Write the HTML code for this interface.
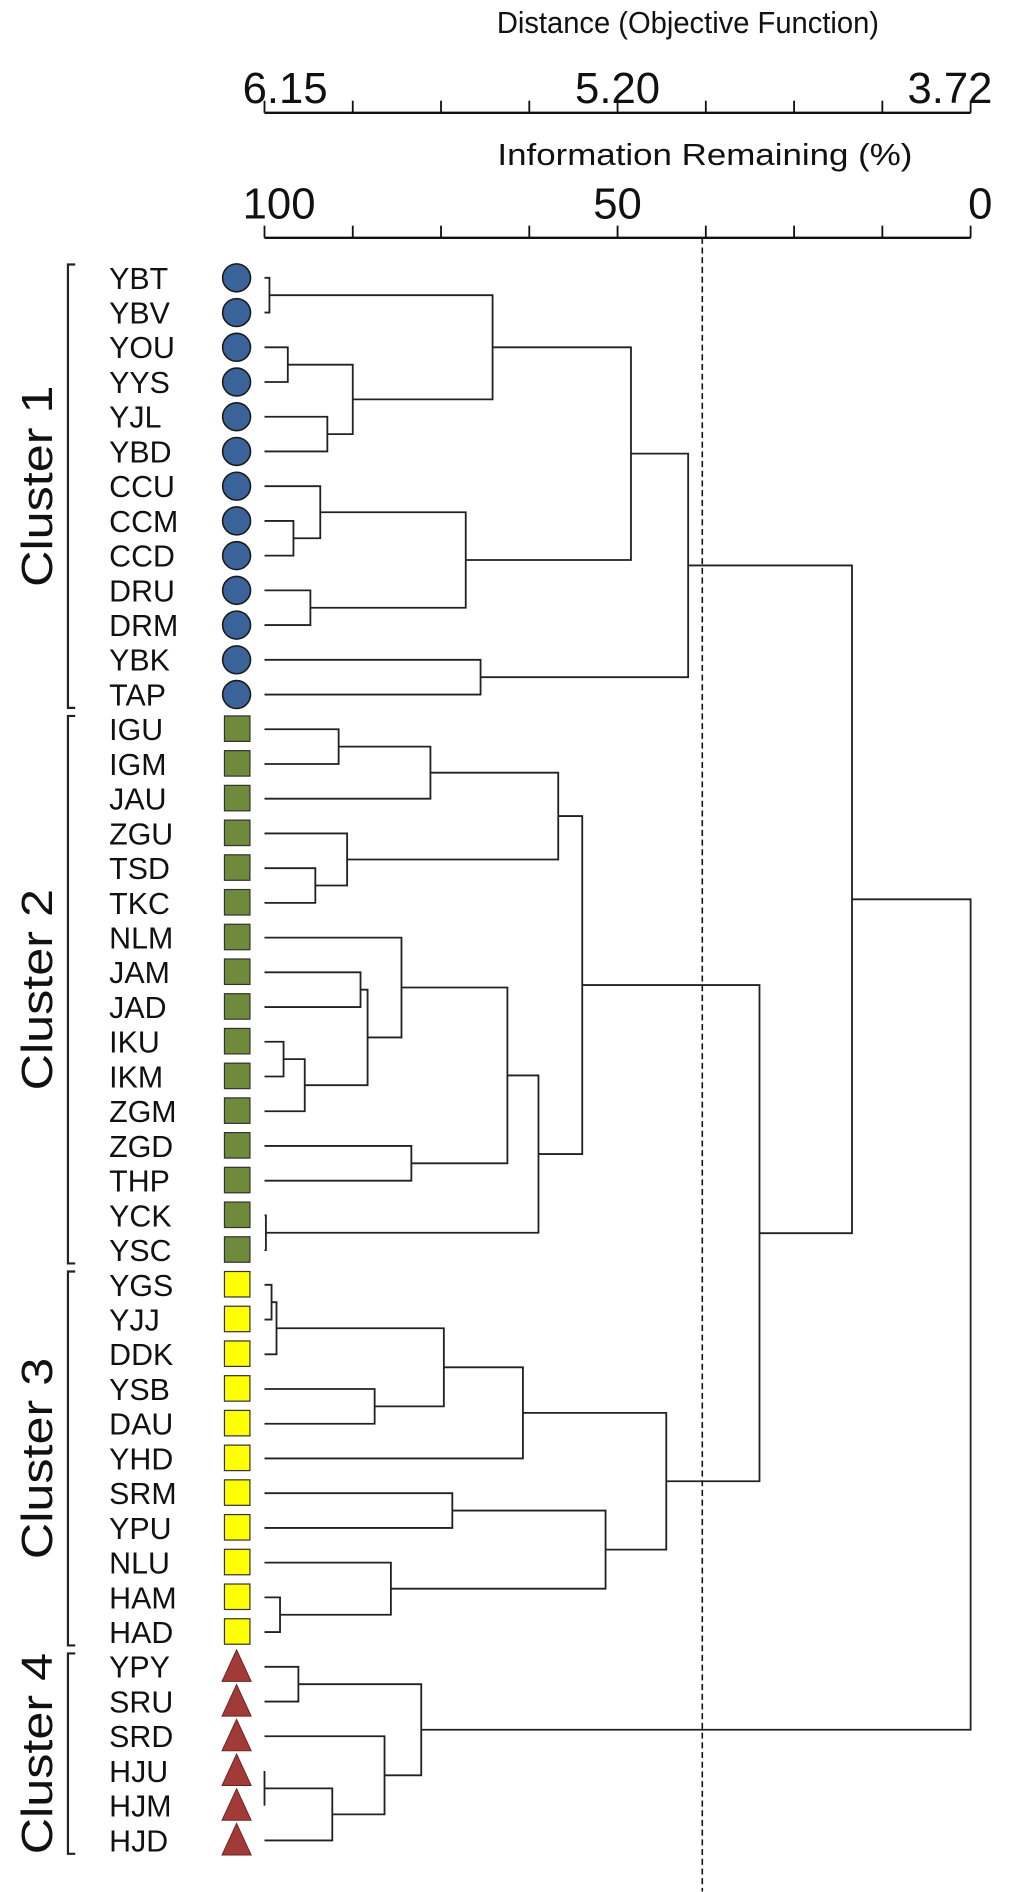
<!DOCTYPE html>
<html><head><meta charset="utf-8"><style>
html,body{margin:0;padding:0;background:#fff;}
svg{display:block;}
text{font-family:"Liberation Sans",Arial,sans-serif;fill:#111;}
</style></head><body>
<svg id="chart" width="1024" height="1892" viewBox="0 0 844 1559.4" preserveAspectRatio="none" xmlns="http://www.w3.org/2000/svg">
<g id="axes"></g>
<g id="tree"></g>
<g id="leaves"></g>
<g id="clusters"></g>
</svg>
<script>
const leafNames = ["YBT","YBV","YOU","YYS","YJL","YBD","CCU","CCM","CCD","DRU","DRM","YBK","TAP",
"IGU","IGM","JAU","ZGU","TSD","TKC","NLM","JAM","JAD","IKU","IKM","ZGM","ZGD","THP","YCK","YSC",
"YGS","YJJ","DDK","YSB","DAU","YHD","SRM","YPU","NLU","HAM","HAD",
"YPY","SRU","SRD","HJU","HJM","HJD"];
const leafCluster = [1,1,1,1,1,1,1,1,1,1,1,1,1, 2,2,2,2,2,2,2,2,2,2,2,2,2,2,2,2, 3,3,3,3,3,3,3,3,3,3,3, 4,4,4,4,4,4];
const mergeLeft  = [0,2,4,47,46,7,6,9,52,50,11,55, 13,58,17,16,59,20,22,64,63,19,25,67,27,69,62, 29,73,32,74,76,35,38,37,78,77,72,57, 40,43,86,42,85,84];
const mergeRight = [1,3,5,48,49,8,51,10,53,54,12,56, 14,15,18,60,61,21,23,24,65,66,26,68,28,70,71, 30,31,33,75,34,36,39,79,80,81,82,83, 41,44,45,87,88,89];
const mergeInfo  = [99.3,96.7,91.1,87.5,67.7,95.9,92.1,93.5,71.5,48.1,69.4,40.0, 89.5,76.5,92.8,88.3,58.4,86.4,97.3,94.3,85.4,80.6,79.2,65.6,99.8,61.2,55.0, 99.0,98.3,84.4,74.6,63.4,73.4,97.8,82.1,51.7,43.1,29.9,16.8, 95.2,100,90.4,83.0,77.8,0];
const infoTicks = ["100","50","0"];
const infoTickVals = [100,50,0];
const distTicks = ["6.15","5.20","3.72"];
const distTickVals = [100,50,0];
const cutoffInfo = 38;
const clusterNames = ["Cluster 1","Cluster 2","Cluster 3","Cluster 4"];

const NS="http://www.w3.org/2000/svg";
const X0=218, X1=800, Y0=229, DY=28.62;
function xScale(v){return X0+(100-v)/100*(X1-X0);}
function yLeaf(i){return Y0+i*DY;}
function mk(tag,attrs,parent){const e=document.createElementNS(NS,tag);for(const k in attrs)e.setAttribute(k,attrs[k]);parent.appendChild(e);return e;}
const axes=document.getElementById('axes'),tree=document.getElementById('tree'),leaves=document.getElementById('leaves'),clusters=document.getElementById('clusters');

function drawAxis(yLine,title,titleX,titleY,titleLen,labels,vals,labelY,name){
  const t=mk('text',{x:titleX,y:titleY,'font-size':25,'text-anchor':'middle',textLength:titleLen,lengthAdjust:'spacingAndGlyphs'},axes);t.textContent=title;
  
  
  const l=mk('line',{x1:X0,x2:X1,y1:yLine,y2:yLine,stroke:'#111','stroke-width':2},axes);
  
  
  for(let i=0;i<=8;i++){const x=X0+i*(X1-X0)/8;
    const tk=mk('line',{x1:x,x2:x,y1:yLine-10,y2:yLine,stroke:'#111','stroke-width':1.5},axes);
    
    }
  labels.forEach((s,i)=>{const x=xScale(vals[i]);
    const anchor=i===0?'start':(i===labels.length-1?'end':'middle');
    const xx=i===0?x-18:(i===labels.length-1?x+18:x);
    const tl=mk('text',{x:xx,y:labelY,'font-size':36,'text-anchor':anchor},axes);tl.textContent=s;
    
    });
}
drawAxis(93,"Distance (Objective Function)",567,27,315,distTicks,distTickVals,85,'distance-axis');
drawAxis(196,"Information Remaining (%)",581,136,342,infoTicks,infoTickVals,180,'info-axis');
const cut=mk('line',{x1:xScale(cutoffInfo),x2:xScale(cutoffInfo),y1:196,y2:1559,stroke:'#111','stroke-width':1.3,'stroke-dasharray':'5,3'},axes);



const N=leafNames.length;
const nodeX=[],nodeY=[];
for(let i=0;i<N;i++){nodeX.push(X0);nodeY.push(yLeaf(i));}
for(let k=0;k<mergeInfo.length;k++){
  const a=mergeLeft[k],b=mergeRight[k],x=xScale(mergeInfo[k]);
  const ya=nodeY[a],yb=nodeY[b];
  const p=mk('path',{d:`M${nodeX[a]},${ya}H${x}V${yb}H${nodeX[b]}`,fill:'none',stroke:'#222','stroke-width':1.5},tree);
  
  
  nodeX.push(x);nodeY.push((ya+yb)/2);
}

const colors={1:'#3a6399',2:'#6e8a3a',3:'#ffff00',4:'#a23a37'};
leafNames.forEach((s,i)=>{const y=yLeaf(i);
  const t=mk('text',{x:90,y:y+9,'font-size':25},leaves);t.textContent=s;
  
  
  const c=leafCluster[i];let m;
  if(c===1)m=mk('circle',{cx:195,cy:y,r:11.5,fill:colors[1],stroke:'#1a1a1a','stroke-width':1.3},leaves);
  else if(c===4)m=mk('path',{d:`M195,${y-14}L207,${y+12}L183,${y+12}Z`,fill:colors[4],stroke:'#6a2422','stroke-width':0.8},leaves);
  else m=mk('rect',{x:185,y:y-11,width:21,height:21,fill:colors[c],stroke:'#333','stroke-width':1},leaves);
  
  
});

clusterNames.forEach((nm,ci)=>{
  const idx=leafCluster.map((c,i)=>c===ci+1?i:-1).filter(i=>i>=0);
  const yt=yLeaf(idx[0])-11,yb=yLeaf(idx[idx.length-1])+11;
  const p=mk('path',{d:`M62,${yt}H56V${yb}H62`,fill:'none',stroke:'#222','stroke-width':1.8},clusters);
  
  
  const cy=(yt+yb)/2;
  const t=mk('text',{x:0,y:0,'font-size':36,'text-anchor':'middle',textLength:166,lengthAdjust:'spacingAndGlyphs',transform:`translate(43,${cy}) rotate(-90)`},clusters);
  t.textContent=nm;
  
  
});
</script>
</body></html>
